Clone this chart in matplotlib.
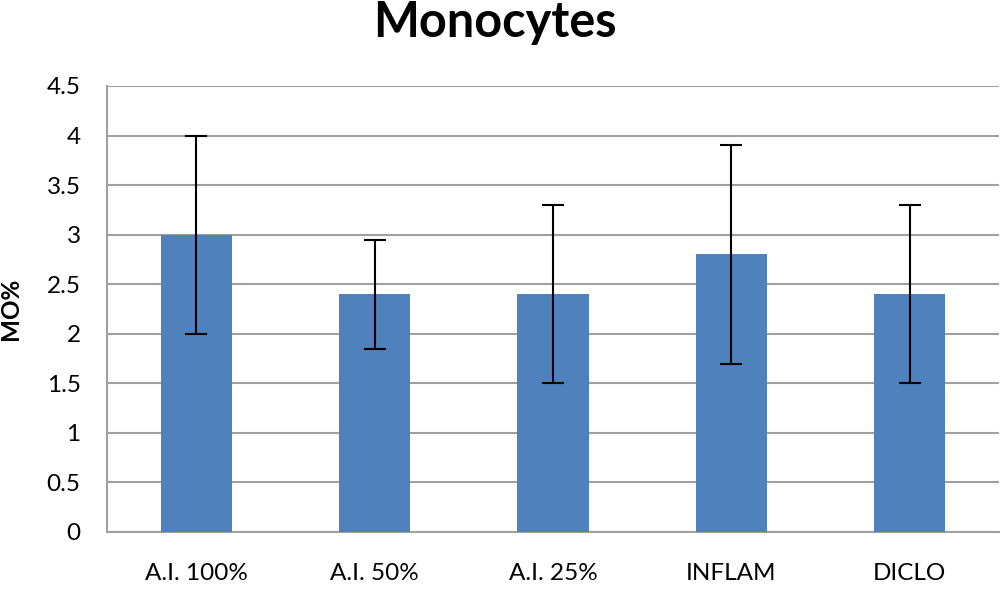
import matplotlib
matplotlib.use("Agg")
import matplotlib.pyplot as plt
import numpy as np

categories = ["A.I. 100%", "A.I. 50%", "A.I. 25%", "INFLAM", "DICLO"]
values = [3.0, 2.4, 2.4, 2.8, 2.4]
errors = [1.0, 0.55, 0.9, 1.1, 0.9]
yticks = [0, 0.5, 1, 1.5, 2, 2.5, 3, 3.5, 4, 4.5]
ytick_labels = ["0", "0.5", "1", "1.5", "2", "2.5", "3", "3.5", "4", "4.5"]

plt.rcParams['font.family'] = ['Lato', 'DejaVu Sans']

fig = plt.figure(figsize=(10, 6.05), dpi=100)
ax = fig.add_axes([0.107, 1 - 532/605, 0.892, (532 - 86)/605])

x = np.arange(len(categories))
ax.bar(x, values, width=0.4, color="#4F81BD", zorder=3)
ax.errorbar(x, values, yerr=errors, fmt="none", ecolor="black", elinewidth=1.5,
            capsize=8, capthick=1.5, zorder=4)

ax.set_xlim(-0.5, len(categories) - 0.5)
ax.set_ylim(0, 4.5)
ax.set_yticks(yticks)
ax.set_yticklabels(ytick_labels, fontsize=17.5)
ax.set_xticks(x)
ax.set_xticklabels(categories, fontsize=17.5)
ax.yaxis.grid(True, color="#A0A0A0", linewidth=1.5, zorder=0)
ax.tick_params(axis="y", length=0, pad=19)
ax.tick_params(axis="x", length=0, pad=22)
for s in ["top", "right"]:
    ax.spines[s].set_visible(False)
ax.spines["left"].set_color("#A0A0A0")
ax.spines["left"].set_linewidth(1.5)
ax.spines["bottom"].set_color("#A0A0A0")
ax.spines["bottom"].set_linewidth(1.5)

ax.set_ylabel("MO%", fontsize=17.5, fontweight="bold")
ax.yaxis.set_label_coords(-0.095, 0.5)
fig.text(0.495, 0.963, "Monocytes", ha="center", va="center", fontsize=35, fontweight="bold")

fig.savefig("out.png", dpi=100)
